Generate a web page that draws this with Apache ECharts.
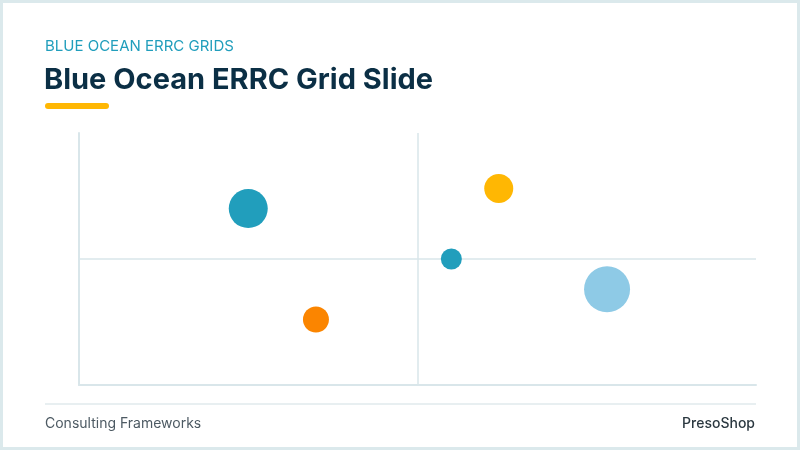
<!DOCTYPE html>
<html>
<head>
<meta charset="utf-8">
<title>Blue Ocean ERRC Grid Slide</title>
<script src="https://cdn.jsdelivr.net/npm/echarts@6/dist/echarts.min.js"></script>
<style>
	html, body { margin: 0; padding: 0; background: #fff; }
	#main { width: 800px; height: 450px; }
</style>
</head>
<body>
<div id="main"></div>
<script>
	// bubble data (x, y on a 0-10 grid, bubble size)
	var xVals = [2.5, 3.5, 5.5, 6.2, 7.8];
	var yVals = [7.0, 2.6, 5.0, 7.8, 3.8];
	var sizes = [39, 26, 21, 29, 46];
	var palette = ['#219ebc', '#fb8500', '#219ebc', '#ffb703', '#8ecae6'];

	var axisMin = 0, axisMax = 10, midLine = 5;

	var points = xVals.map(function (x, i) {
		return {
			value: [x, yVals[i], sizes[i]],
			itemStyle: { color: palette[i], opacity: 1 }
		};
	});

	var font = 'Inter, "Open Sans", sans-serif';
	var lineCol = '#d9e6ea';

	var myChart = echarts.init(document.getElementById('main'), null, { renderer: 'canvas' });
	var option = {
		animation: false,
		textStyle: { fontFamily: font },
		title: [{
			text: 'BLUE OCEAN ERRC GRIDS',
			left: 45, top: 39, padding: 0,
			textStyle: { fontSize: 15, fontWeight: 'normal', color: '#219ebc', fontFamily: font }
		}, {
			text: 'Blue Ocean ERRC Grid Slide',
			left: 44, top: 66, padding: 0,
			textStyle: { fontSize: 29, fontWeight: 'bold', color: '#0b2f45', fontFamily: font }
		}],
		graphic: [
			{ // slide frame
				type: 'rect', silent: true,
				shape: { x: 1.5, y: 1.5, width: 797, height: 447 },
				style: { fill: 'none', stroke: '#dbe9ec', lineWidth: 3 }
			},
			{ // accent underline
				type: 'rect', silent: true,
				shape: { x: 45, y: 103, width: 64, height: 6, r: 3 },
				style: { fill: '#ffb703' }
			},
			{ // footer rule
				type: 'line', silent: true,
				shape: { x1: 45, y1: 404, x2: 756, y2: 404 },
				style: { stroke: '#e1eaed', lineWidth: 1.5 }
			},
			{
				type: 'text', left: 45, top: 417,
				style: { text: 'Consulting Frameworks', fontSize: 14, fill: '#4d5a63', fontFamily: font }
			},
			{
				type: 'text', right: 45, top: 417,
				style: { text: 'PresoShop', fontSize: 14, fontWeight: 500, fill: '#2b3840', fontFamily: font }
			}
		],
		grid: { left: 79, right: 44, top: 133, bottom: 65 },
		xAxis: {
			type: 'value', min: axisMin, max: axisMax,
			axisLine: { show: true, lineStyle: { color: lineCol, width: 2 } },
			axisTick: { show: false }, axisLabel: { show: false }, splitLine: { show: false }
		},
		yAxis: {
			type: 'value', min: axisMin, max: axisMax,
			axisLine: { show: true, lineStyle: { color: lineCol, width: 2 } },
			axisTick: { show: false }, axisLabel: { show: false }, splitLine: { show: false }
		},
		series: [{
			// quadrant divider lines, kept under the bubbles
			type: 'scatter',
			data: [],
			z: 1,
			markLine: {
				silent: true,
				symbol: 'none',
				label: { show: false },
				lineStyle: { color: lineCol, width: 1.5, type: 'solid' },
				data: [{ xAxis: midLine }, { yAxis: midLine }]
			}
		}, {
			type: 'scatter',
			data: points,
			symbolSize: function (v) { return v[2]; },
			z: 5
		}]
	};
	myChart.setOption(option);
</script>
</body>
</html>
